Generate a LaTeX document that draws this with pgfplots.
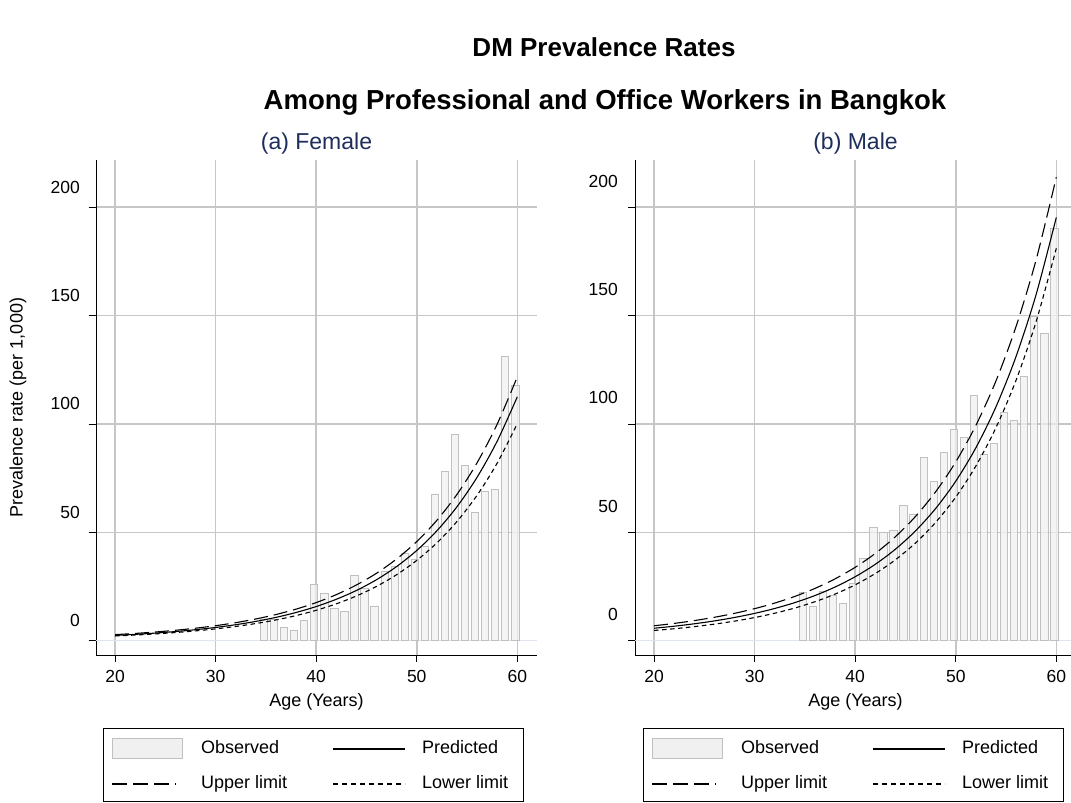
\documentclass[border=0pt]{standalone}
\usepackage{fontspec}
\setmainfont{Liberation Sans}
\usepackage{pgfplots}
\usepackage{pgfplotstable}
\pgfplotsset{compat=1.18}
\definecolor{gridgray}{RGB}{198,198,198}
\definecolor{zeroline}{RGB}{222,228,242}
\definecolor{barfill}{RGB}{240,240,240}
\definecolor{bardraw}{RGB}{192,192,192}
\definecolor{titleblue}{RGB}{30,46,92}

\pgfplotstableread{
age obs
35 9.8
36 9.8
37 6.1
38 4.9
39 9.2
40 26.0
41 21.7
42 14.9
43 13.5
44 30.3
45 24.1
46 16.0
47 32.1
48 34.1
49 40.1
50 37.7
51 43.3
52 67.7
53 78.0
54 95.0
55 80.7
56 59.3
57 68.7
58 69.7
59 131.3
60 117.6
}\femobs

\pgfplotstableread{
age pred upper lower
20 2.399 2.759 2.135
22 2.883 3.306 2.566
24 3.470 3.967 3.088
26 4.178 4.762 3.718
28 5.035 5.722 4.481
30 6.074 6.882 5.406
32 7.333 8.283 6.526
34 8.862 9.980 7.887
36 10.718 12.034 9.539
38 12.975 14.524 11.548
40 15.72 17.544 13.991
42 19.07 21.217 16.972
44 23.14 25.667 20.595
46 28.11 31.084 25.018
48 34.18 37.680 30.420
50 41.59 45.707 37.015
52 50.66 55.503 45.087
54 61.77 67.465 54.975
56 75.37 82.063 67.079
58 92.04 99.900 81.916
60 112.5 121.725 100.125
}\femcurve

\pgfplotstableread{
age obs
35 22.2
36 16.0
37 22.6
38 20.8
39 17.2
40 26.2
41 38.0
42 52.1
43 49.8
44 51.0
45 62.4
46 58.3
47 84.6
48 73.6
49 87.0
50 97.5
51 93.8
52 113.2
53 86.0
54 91.0
55 105.2
56 101.8
57 122.1
58 149.5
59 141.6
60 190.3
}\malobs

\pgfplotstableread{
age pred upper lower
20 5.697 6.836 4.672
22 6.641 7.934 5.481
24 7.759 9.229 6.445
26 9.089 10.764 7.599
28 10.674 12.585 8.981
30 12.564 14.747 10.639
32 14.828 17.327 12.635
34 17.542 20.406 15.041
36 20.803 24.090 17.949
38 24.732 28.510 21.471
40 29.477 33.825 25.748
42 35.219 40.229 30.952
44 42.182 47.961 37.297
46 50.648 57.321 45.054
48 60.965 68.677 54.558
50 73.560 82.479 66.222
52 88.979 99.301 80.579
54 107.900 119.850 98.292
56 131.170 145.008 120.191
58 159.844 175.868 147.320
60 195.275 213.826 181.020
}\malcurve

\pgfplotsset{
  panel/.style={
    scale only axis, width=441pt, height=495pt,
    xmin=18.1, xmax=61.96, ymin=-6.65, ymax=221.8,
    axis x line*=bottom, axis y line*=left,
    axis line style={-, line width=1pt, black},
    xtick={20,30,40,50,60}, ytick={50,100,150,200},
    extra y ticks={0},
    extra y tick style={major grid style={color=zeroline, line width=1.4pt}},
    grid=major, major grid style={color=gridgray, line width=1.5pt},
    tick align=outside, major tick length=7pt,
    tick style={black, line width=0.8pt},
    ticklabel style={font=\fontsize{17.5}{20}\selectfont, inner sep=0pt},
    xticklabel style={anchor=center, yshift=-14pt},
    /pgf/number format/assume math mode=true,
    every axis title/.style={at={(axis description cs:0.5,1)}, anchor=center, yshift=16pt, font=\fontsize{23}{26}\selectfont, color=titleblue},
    every axis x label/.style={at={(axis description cs:0.5,0)}, anchor=center, yshift=-47pt, font=\fontsize{18}{20}\selectfont},
    every axis y label/.style={at={(axis description cs:0,0.5)}, xshift=-78pt, rotate=90, anchor=center, font=\fontsize{18}{20}\selectfont},
    xlabel={Age (Years)},
  },
  obsbar/.style={ybar, bar width=7.3pt, bar shift=-2pt, fill=barfill, draw=bardraw, line width=0.8pt, fill opacity=0.75},
  predline/.style={black, line width=1.1pt, smooth},
  upline/.style={black, line width=1.1pt, smooth, dash pattern=on 14pt off 6pt},
  lowline/.style={black, line width=1.1pt, smooth, dash pattern=on 4.5pt off 3.5pt},
}

\begin{document}
\begin{tikzpicture}[x=1pt,y=1pt]
\path[use as bounding box] (0,0) rectangle (1071,-803);

\node[font=\fontsize{26}{29}\selectfont\bfseries] at (604,-47) {DM Prevalence Rates};
\node[font=\fontsize{27.5}{30}\selectfont\bfseries] at (605,-102) {Among Professional and Office Workers in Bangkok};

\begin{axis}[panel, at={(96pt,-655pt)}, anchor=south west,
  title={(a) Female}, ylabel={Prevalence rate (per 1,000)},
  yticklabel style={anchor=east, xshift=-9pt, yshift=20pt}]
  \addplot[obsbar] table[x=age,y=obs] {\femobs};
  \addplot[predline] table[x=age,y=pred] {\femcurve};
  \addplot[upline] table[x=age,y=upper] {\femcurve};
  \addplot[lowline] table[x=age,y=lower] {\femcurve};
\end{axis}

\begin{axis}[panel, at={(635pt,-655pt)}, anchor=south west,
  title={(b) Male},
  yticklabel style={anchor=east, xshift=-10pt, yshift=26pt}]
  \addplot[obsbar] table[x=age,y=obs] {\malobs};
  \addplot[predline] table[x=age,y=pred] {\malcurve};
  \addplot[upline] table[x=age,y=upper] {\malcurve};
  \addplot[lowline] table[x=age,y=lower] {\malcurve};
\end{axis}

\foreach \L in {103,643} {
  \draw[line width=1pt, black] (\L,-728) rectangle (\L+420,-801);
  \draw[fill=barfill, draw=bardraw, line width=0.8pt] (\L+9,-738) rectangle (\L+79,-758);
  \node[anchor=base west, inner sep=0pt, font=\fontsize{18}{20}\selectfont] at (\L+98,-753.5) {Observed};
  \draw[black, line width=1.1pt] (\L+230,-749) -- (\L+302,-749);
  \node[anchor=base west, inner sep=0pt, font=\fontsize{18}{20}\selectfont] at (\L+319,-753.5) {Predicted};
  \draw[black, line width=1.1pt, dash pattern=on 15pt off 6pt on 15pt off 6pt on 15pt off 6pt on 1pt off 20pt] (\L+9,-784) -- (\L+79,-784);
  \node[anchor=base west, inner sep=0pt, font=\fontsize{18}{20}\selectfont] at (\L+98,-788.5) {Upper limit};
  \draw[black, line width=1.1pt, dash pattern=on 5pt off 4pt] (\L+230,-784) -- (\L+302,-784);
  \node[anchor=base west, inner sep=0pt, font=\fontsize{18}{20}\selectfont] at (\L+319,-788.5) {Lower limit};
}
\end{tikzpicture}
\end{document}
